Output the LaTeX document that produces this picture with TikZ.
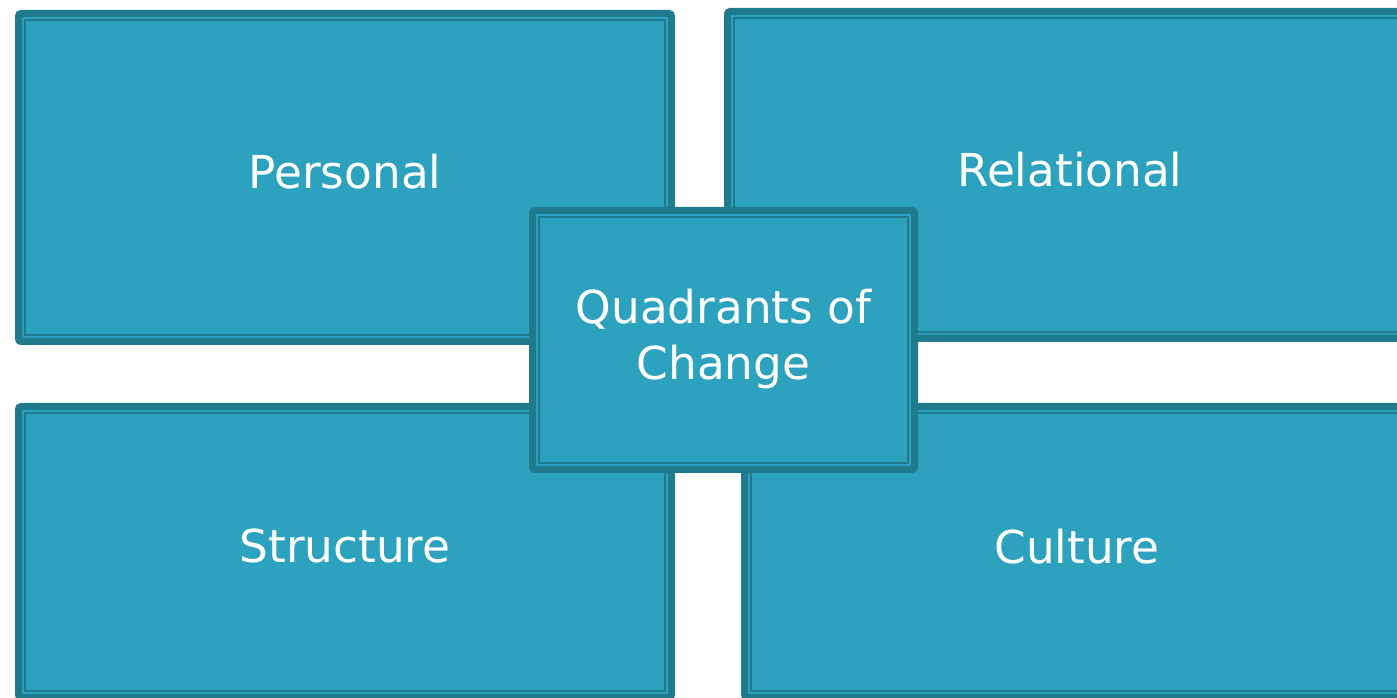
\documentclass[tikz,border=0pt]{standalone}
\usepackage{fontspec}
\setmainfont{DejaVu Sans}
\definecolor{quadfill}{RGB}{45,162,191}
\definecolor{quadline}{RGB}{31,122,142}
\begin{document}
\begin{tikzpicture}[x=0.75pt,y=-0.75pt,
  quad/.style={draw=quadline, fill=quadfill, line width=5.25pt, rounded corners=2pt,
    inner sep=0pt, text=white, align=center, text depth=9pt,
    font=\fontsize{34}{42}\selectfont,
    path picture={\draw[quadline, line width=1.5pt, sharp corners]
      ([shift={(5pt,-5pt)}]path picture bounding box.north west) rectangle
      ([shift={(-5pt,5pt)}]path picture bounding box.south east);}},
  ]
  \useasboundingbox (0,0) rectangle (1397,698);
  \clip (0,0) rectangle (1397,698);
  % four quadrants
  \node[quad, minimum width=489.75pt, minimum height=246pt] (personal) at (345,177.5) {Personal};
  \node[quad, minimum width=513.75pt, minimum height=245.25pt] (relational) at (1070,175) {Relational};
  \node[quad, minimum width=489.75pt, minimum height=218.25pt] (structure) at (345,552) {Structure};
  \node[quad, minimum width=498.75pt, minimum height=218.25pt] (culture) at (1077,552) {Culture};
  % centre box
  \node[quad, minimum width=286.5pt, minimum height=194.25pt] (quadrants) at (723.5,340) {Quadrants of\\Change};
\end{tikzpicture}
\end{document}
